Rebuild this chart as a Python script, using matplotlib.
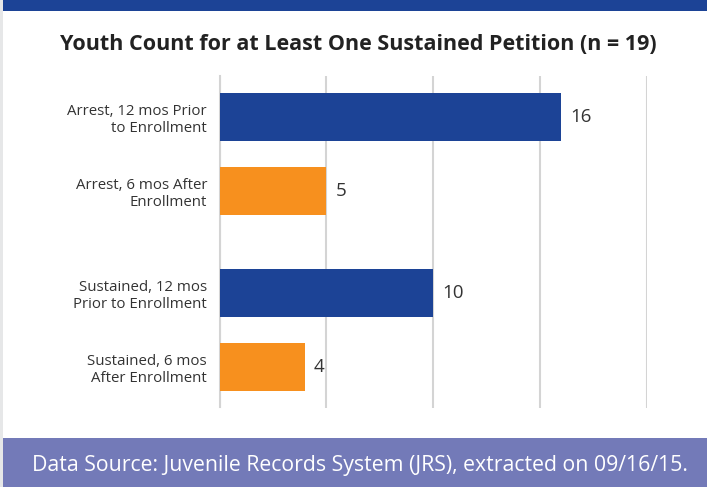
import matplotlib
matplotlib.use("Agg")
import matplotlib.pyplot as plt
from matplotlib.patches import Rectangle

plt.rcParams['font.family'] = ['Open Sans', 'DejaVu Sans']

categories = [
    "Arrest, 12 mos Prior\nto Enrollment",
    "Arrest, 6 mos After\nEnrollment",
    "Sustained, 12 mos\nPrior to Enrollment",
    "Sustained, 6 mos\nAfter Enrollment",
]
values = [16, 5, 10, 4]
value_labels = ["16", "5", "10", "4"]
x_ticks = [0, 5, 10, 15, 20]
title = "Youth Count for at Least One Sustained Petition (n = 19)"
source = "Data Source: Juvenile Records System (JRS), extracted on 09/16/15."

BLUE = "#1c4396"
ORANGE = "#f7901e"
FOOT = "#737ab8"
STRIP = "#e6e7e8"
GRID = "#d4d4d4"
TEXT = "#333333"

W, H = 707, 487
fig = plt.figure(figsize=(W / 100, H / 100), dpi=100)
fig.patch.set_facecolor("white")

def fx(px):
    return px / W

def fy(py):
    return 1 - py / H

# decorative bands
fig.patches.append(Rectangle((0, 0), fx(3), 1, transform=fig.transFigure,
                             facecolor=STRIP, edgecolor="none", zorder=0))
fig.patches.append(Rectangle((fx(3), fy(10.5)), 1, 10.5 / H, transform=fig.transFigure,
                             facecolor=BLUE, edgecolor="none", zorder=0))
fig.patches.append(Rectangle((fx(3), 0), 1, (H - 437.5) / H, transform=fig.transFigure,
                             facecolor=FOOT, edgecolor="none", zorder=0))

left, right, top, bottom = 219.5, 646.5, 75.7, 407.5
ax = fig.add_axes([fx(left), fy(bottom), fx(right - left), (bottom - top) / H])
ax.set_facecolor("none")

ypos = [0, 1, 2.38, 3.38]
colors = [BLUE, ORANGE, BLUE, ORANGE]
ax.barh(ypos, values, height=0.645, color=colors, zorder=3)
ax.set_xlim(0, 20)
ax.set_ylim(3.38 + 0.55, -0.56)
ax.set_xticks(x_ticks)
ax.xaxis.grid(True, color=GRID, linewidth=1.5, zorder=0)
ax.tick_params(axis="x", length=0, labelbottom=False)
ax.tick_params(axis="y", length=0, pad=9)
ax.set_yticks(ypos)
ax.set_yticklabels(categories, fontsize=10.8, color=TEXT, linespacing=1.15)
for s in ["top", "right", "bottom"]:
    ax.spines[s].set_visible(False)
ax.spines["left"].set_color(GRID)
ax.spines["left"].set_linewidth(1.5)

for y, v, lab in zip(ypos, values, value_labels):
    ax.annotate(lab, (v, y), xytext=(6.5, 0), textcoords="offset points",
                ha="left", va="center", fontsize=13.5, color=TEXT)

fig.text(fx(358), fy(45), title, ha="center", va="center",
         fontsize=15.5, fontweight="bold", color="#222222")
fig.text(fx(359.5), fy(465), source, ha="center", va="center",
         fontsize=15.3, color="white")

fig.savefig("out.png", dpi=100)
